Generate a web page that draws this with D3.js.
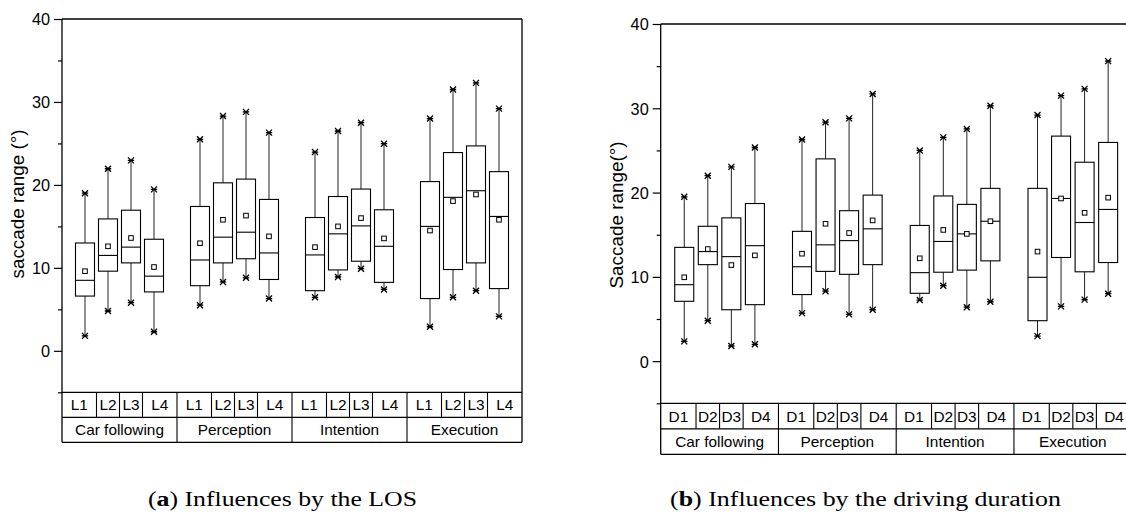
<!DOCTYPE html>
<html>
<head>
<meta charset="utf-8">
<script src="https://cdn.jsdelivr.net/npm/d3@7/dist/d3.min.js"></script>
<style>
  html, body { margin: 0; padding: 0; background: #fff; }
  svg { display: block; }
</style>
</head>
<body>
<svg id="chart" width="1126" height="522"></svg>
<script>
// ---------- data ----------
const groups = ["Car following", "Perception", "Intention", "Execution"];
const levelsA = ["L1", "L2", "L3", "L4"];
const levelsB = ["D1", "D2", "D3", "D4"];
const yTicks = [0, 10, 20, 30, 40];
const yMinorTicks = [-5, 5, 15, 25, 35];

// (a) Influences by the LOS — order: group × level
const aMin  = [1.8, 4.8, 5.8, 2.3,   5.5, 8.3, 8.8, 6.3,    6.45, 8.9, 9.9, 7.4,    2.9, 6.45, 7.25, 4.15];
const aQ1   = [6.6, 9.6, 10.6, 7.1,  7.85, 10.6, 11.1, 8.6, 7.25, 9.75, 10.8, 8.25, 6.3, 9.8, 10.6, 7.5];
const aMed  = [8.5, 11.5, 12.5, 9.0, 10.95, 13.7, 14.3, 11.8, 11.56, 14.1, 15.06, 12.6, 15.0, 18.5, 19.3, 16.2];
const aQ3   = [13.0, 15.9, 16.95, 13.45, 17.4, 20.25, 20.7, 18.25, 16.07, 18.6, 19.5, 17.0, 20.4, 23.9, 24.7, 21.6];
const aMax  = [19.0, 21.95, 22.96, 19.46, 25.5, 28.3, 28.8, 26.3, 23.96, 26.5, 27.5, 24.97, 28.0, 31.5, 32.3, 29.2];
const aMean = [9.6, 12.6, 13.6, 10.1, 12.97, 15.8, 16.3, 13.8, 12.5, 15.0, 16.0, 13.55, 14.5, 18.05, 18.85, 15.8];

// (b) Influences by the driving duration
const bMin  = [2.35, 4.8, 1.8, 2.0,   5.7, 8.3, 5.55, 6.1,    7.25, 8.95, 6.4, 7.05,   2.97, 6.5, 7.3, 8.0];
const bQ1   = [7.1, 11.45, 6.1, 6.7,  7.9, 10.65, 10.3, 11.45, 8.05, 10.55, 10.8, 11.9, 4.8, 12.3, 10.6, 11.7];
const bMed  = [9.07, 13.0, 12.4, 13.7, 11.2, 13.8, 14.3, 15.7, 10.5, 14.2, 15.1, 16.6, 9.95, 19.3, 16.45, 18.0];
const bQ3   = [13.5, 16.0, 17.0, 18.7, 15.4, 24.0, 17.85, 19.7, 16.1, 19.6, 18.6, 20.5, 20.5, 26.7, 23.6, 25.95];
const bMax  = [19.5, 22.0, 23.05, 25.35, 26.3, 28.35, 28.8, 31.7, 25.0, 26.55, 27.55, 30.3, 29.2, 31.5, 32.3, 35.6];
const bMean = [9.95, 13.3, 11.4, 12.55, 12.75, 16.3, 15.2, 16.7, 12.2, 15.57, 15.1, 16.6, 13.0, 19.3, 17.6, 19.4];

// ---------- fonts ----------
const SANS = "'Liberation Sans', Arial, Arimo, Helvetica, sans-serif";
const SERIF = "'Liberation Serif', 'Times New Roman', Tinos, serif";
const mctx = document.createElement("canvas").getContext("2d");
function textW(str, size, fam, weight) {
  mctx.font = `${weight || "normal"} ${size}px ${fam}`;
  return mctx.measureText(str).width;
}
// fit the sans font so that "Car following" is ~89 px wide at the nominal 15.5 px (as in the figure)
const FS = Math.min(1.05, 89 / textW("Car following", 15.5, SANS));

// ---------- drawing ----------
const svg = d3.select("#chart");
svg.append("rect").attr("width", 1126).attr("height", 522).attr("fill", "#fff");

function drawChart(cfg) {
  const g = svg.append("g").attr("font-family", SANS);
  const x = d3.scaleLinear().domain([0, 20]).range([cfg.left, cfg.right]);
  const y = d3.scaleLinear().domain([-5, 40]).range([cfg.yBottom, cfg.top]);
  const bw = 19;
  const rowH = cfg.rowH;
  const tableBottom = cfg.yBottom + 2 * rowH;

  const stats = cfg.min.map((_, k) => ({
    pos: 5 * Math.floor(k / 4) + (k % 4) + 1,
    min: cfg.min[k], q1: cfg.q1[k], med: cfg.med[k], q3: cfg.q3[k], max: cfg.max[k], mean: cfg.mean[k]
  }));

  // frame: top and right
  g.append("line").attr("x1", x(0)).attr("x2", x(20)).attr("y1", y(40)).attr("y2", y(40))
    .attr("stroke", "#000").attr("stroke-width", 1.3);
  g.append("line").attr("x1", x(20)).attr("x2", x(20)).attr("y1", y(40)).attr("y2", tableBottom)
    .attr("stroke", "#000").attr("stroke-width", 1.3);

  // y axis major
  const axMaj = d3.axisLeft(y).tickValues(yTicks).tickSize(8).tickPadding(4).tickFormat(d3.format("d"));
  const ga = g.append("g").attr("transform", `translate(${x(0)},0)`).call(axMaj);
  ga.attr("font-family", SANS).attr("font-size", 16.4 * FS);
  ga.select(".domain").remove();
  ga.selectAll("line").attr("stroke", "#000").attr("stroke-width", 1.2);
  ga.selectAll("text").attr("fill", "#000").attr("dy", "0.36em");
  // minor
  const axMin = d3.axisLeft(y).tickValues(yMinorTicks).tickSize(4).tickFormat("");
  const gm = g.append("g").attr("transform", `translate(${x(0)},0)`).call(axMin);
  gm.select(".domain").remove();
  gm.selectAll("line").attr("stroke", "#000").attr("stroke-width", 1.2);

  // left axis line down through table
  g.append("line").attr("x1", x(0)).attr("x2", x(0)).attr("y1", y(40)).attr("y2", tableBottom)
    .attr("stroke", "#000").attr("stroke-width", 1.3);

  // table horizontals
  [cfg.yBottom, cfg.yBottom + rowH, tableBottom].forEach(yy => {
    g.append("line").attr("x1", x(0)).attr("x2", x(20)).attr("y1", yy).attr("y2", yy)
      .attr("stroke", "#000").attr("stroke-width", 1.2);
  });

  // level cells
  const cellEdges = [0, 1.5, 2.5, 3.5, 5];
  groups.forEach((gn, gi) => {
    const base = 5 * gi;
    cfg.levels.forEach((lv, li) => {
      const a = base + cellEdges[li], b = base + cellEdges[li + 1];
      g.append("text").attr("x", (x(a) + x(b)) / 2).attr("y", cfg.yBottom + rowH / 2 + 5.5)
        .attr("text-anchor", "middle").attr("font-size", 15.5 * FS).text(lv);
      if (li > 0) {
        g.append("line").attr("x1", x(a)).attr("x2", x(a)).attr("y1", cfg.yBottom).attr("y2", cfg.yBottom + rowH)
          .attr("stroke", "#000").attr("stroke-width", 1.1);
      }
    });
    if (gi > 0) {
      g.append("line").attr("x1", x(base)).attr("x2", x(base)).attr("y1", cfg.yBottom).attr("y2", tableBottom)
        .attr("stroke", "#000").attr("stroke-width", 1.1);
    }
    g.append("text").attr("x", x(base + 2.5)).attr("y", cfg.yBottom + rowH + rowH / 2 + 5.5)
      .attr("text-anchor", "middle").attr("font-size", 15.5 * FS).text(gn);
  });

  // whiskers
  const wk = g.append("g").attr("stroke", "#222").attr("stroke-width", 1);
  stats.forEach(s => {
    wk.append("line").attr("x1", x(s.pos)).attr("x2", x(s.pos)).attr("y1", y(s.q3)).attr("y2", y(s.max));
    wk.append("line").attr("x1", x(s.pos)).attr("x2", x(s.pos)).attr("y1", y(s.q1)).attr("y2", y(s.min));
  });
  // boxes
  g.selectAll(null).data(stats).enter().append("rect")
    .attr("x", d => x(d.pos) - bw / 2).attr("width", bw)
    .attr("y", d => y(d.q3)).attr("height", d => y(d.q1) - y(d.q3))
    .attr("fill", "#fff").attr("stroke", "#000").attr("stroke-width", 1.1);
  // medians
  g.selectAll(null).data(stats).enter().append("line")
    .attr("x1", d => x(d.pos) - bw / 2).attr("x2", d => x(d.pos) + bw / 2)
    .attr("y1", d => y(d.med)).attr("y2", d => y(d.med))
    .attr("stroke", "#000").attr("stroke-width", 1.1);
  // means
  g.selectAll(null).data(stats).enter().append("rect")
    .attr("x", d => x(d.pos) - 2.3).attr("y", d => y(d.mean) - 2.3)
    .attr("width", 4.6).attr("height", 4.6)
    .attr("fill", "#fff").attr("stroke", "#000").attr("stroke-width", 1);
  // whisker end markers
  const star = "M-3,-3L3,3M-3,3L3,-3M-3.2,0L3.2,0";
  stats.forEach(s => {
    [s.min, s.max].forEach(v => {
      g.append("path").attr("d", star).attr("transform", `translate(${x(s.pos)},${y(v)})`)
        .attr("stroke", "#000").attr("stroke-width", 1.3).attr("fill", "none");
    });
  });

  // y label
  g.append("text")
    .attr("transform", `translate(${cfg.labelX},${cfg.labelY}) rotate(-90)`)
    .attr("text-anchor", "middle").attr("font-size", 19 * FS).text(cfg.ylabel);

  // caption
  const cap = svg.append("text").attr("x", cfg.capX).attr("y", cfg.capY)
    .attr("font-family", SERIF).attr("font-size", 20)
    .attr("textLength", cfg.capW).attr("lengthAdjust", "spacingAndGlyphs");
  cap.append("tspan").text("(");
  cap.append("tspan").attr("font-weight", "bold").text(cfg.capLetter);
  cap.append("tspan").text(") " + cfg.capText);
}

drawChart({
  left: 62, right: 522, top: 19, yBottom: 392.3, rowH: 25,
  levels: levelsA, min: aMin, q1: aQ1, med: aMed, q3: aQ3, max: aMax, mean: aMean,
  ylabel: "saccade range (°)", labelX: 23.5, labelY: 204,
  capX: 148, capY: 506, capW: 269, capLetter: "a", capText: "Influences by the LOS"
});

drawChart({
  left: 660.7, right: 1131.7, top: 24, yBottom: 403.3, rowH: 25.5,
  levels: levelsB, min: bMin, q1: bQ1, med: bMed, q3: bQ3, max: bMax, mean: bMean,
  ylabel: "Saccade range(°)", labelX: 622.5, labelY: 215,
  capX: 670, capY: 506, capW: 391, capLetter: "b", capText: "Influences by the driving duration"
});
</script>
</body>
</html>
